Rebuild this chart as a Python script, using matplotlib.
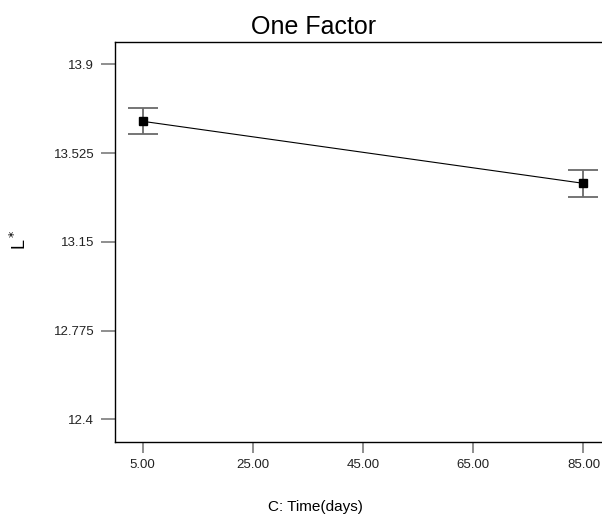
import matplotlib
matplotlib.use("Agg")
import matplotlib.pyplot as plt

# Data
time_days = [5.0, 85.0]
l_star = [13.659, 13.397]
err = [0.055, 0.056]
xtick_vals = [5.0, 25.0, 45.0, 65.0, 85.0]
xtick_labels = ["5.00", "25.00", "45.00", "65.00", "85.00"]
ytick_vals = [12.4, 12.775, 13.15, 13.525, 13.9]
ytick_labels = ["12.4", "12.775", "13.15", "13.525", "13.9"]

plt.rcParams['font.family'] = ['Liberation Sans', 'DejaVu Sans']

fig = plt.figure(figsize=(6.02, 5.26), dpi=100)
W, H = 602, 526
left, right, top, bottom = 115, 611, 41.7, 442
ax = fig.add_axes([left / W, 1 - bottom / H, (right - left) / W, (bottom - top) / H])

ax.errorbar(time_days, l_star, yerr=err, fmt='none', ecolor='#6a6a6a',
            elinewidth=1.3, capsize=10.5, capthick=1.3, zorder=2)
ax.plot(time_days, l_star, color='black', linewidth=0.8, marker='s',
        markersize=6.3, markerfacecolor='black', markeredgecolor='black', zorder=3)

ax.set_xlim(0, 90)
ax.set_ylim(12.305, 13.995)
ax.set_xticks(xtick_vals)
ax.set_xticklabels(xtick_labels)
ax.set_yticks(ytick_vals)
ax.set_yticklabels(ytick_labels)

ax.tick_params(axis='y', direction='out', length=10, width=1.1, color='#707070',
               labelsize=9.5, pad=5, labelcolor='#222222')
ax.tick_params(axis='x', direction='out', length=8, width=1.1, color='#707070',
               labelsize=9.5, pad=4, labelcolor='#222222')
for s in ['left', 'top', 'bottom']:
    ax.spines[s].set_color('black')
    ax.spines[s].set_linewidth(1.0)
ax.spines['right'].set_visible(False)

fig.text(314 / W, 1 - 27 / H, "One Factor", fontsize=18, ha='center', va='center')
fig.text(315 / W, 1 - 507 / H, "C: Time(days)", fontsize=11, ha='center', va='center')
fig.text(20 / W, 1 - 240 / H, "L$^*$", fontsize=13, rotation=90, ha='center', va='center')

fig.savefig("out.png", dpi=100)
